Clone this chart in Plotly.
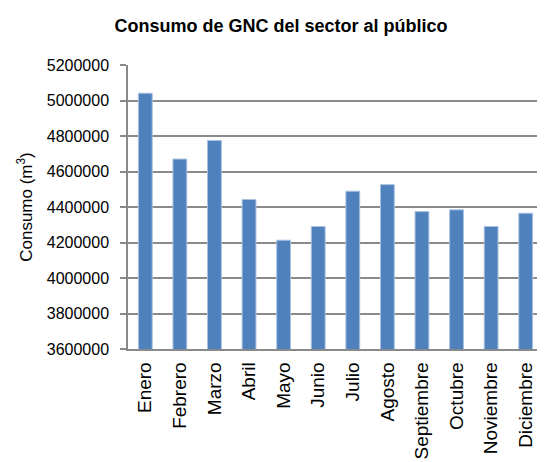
"""Consumo mensual de GNC del sector al público."""

import plotly.graph_objects as go

meses = [
    "Enero", "Febrero", "Marzo", "Abril", "Mayo", "Junio",
    "Julio", "Agosto", "Septiembre", "Octubre", "Noviembre", "Diciembre",
]
consumo = [
    5041000, 4670000, 4775000, 4442000, 4213000, 4290000,
    4489000, 4526000, 4374000, 4384000, 4290000, 4365000,
]
y_ticks = [3600000, 3800000, 4000000, 4200000, 4400000,
           4600000, 4800000, 5000000, 5200000]

FONT = "Liberation Sans, Arial, sans-serif"
GRID = "#8a8a8a"

# la página añade 8 px de margen al body, se compensa aquí
W, H = 537, 454

fig = go.Figure()

fig.add_trace(
    go.Bar(
        x=meses,
        y=consumo,
        marker=dict(color="#4f81bd", line=dict(color="#a9c2e0", width=1)),
        showlegend=False,
    )
)

fig.update_layout(
    width=W,
    height=H,
    margin=dict(l=120, r=2, t=57, b=113),
    paper_bgcolor="white",
    plot_bgcolor="white",
    bargap=0.6,
    font=dict(family=FONT, color="black"),
    title=dict(
        text="<b>Consumo de GNC del sector al público</b>",
        font=dict(size=18, family=FONT, color="black"),
        x=273 / W,
        xanchor="center",
        y=1 - 18 / H,
        yanchor="middle",
        yref="container",
    ),
)

fig.update_yaxes(
    range=[3600000, 5200000],
    tickvals=y_ticks,
    ticktext=[str(v) for v in y_ticks],
    showgrid=True,
    gridcolor=GRID,
    gridwidth=1.5,
    showline=True,
    linecolor=GRID,
    linewidth=1.5,
    ticks="outside",
    ticklen=6,
    tickcolor=GRID,
    tickwidth=1.5,
    ticklabelstandoff=8,
    tickfont=dict(size=16, family=FONT, color="black"),
    title=dict(
        text="Consumo (m<sup>3</sup>)",
        font=dict(size=17, family=FONT, color="black"),
        standoff=10,
    ),
    zeroline=False,
)

fig.update_xaxes(
    showline=True,
    linecolor=GRID,
    linewidth=1.5,
    tickangle=-90,
    ticks="outside",
    ticklen=4,
    tickcolor="rgba(0,0,0,0)",
    tickfont=dict(size=19, family=FONT, color="black"),
    showgrid=False,
)

fig.write_html("out.html")
